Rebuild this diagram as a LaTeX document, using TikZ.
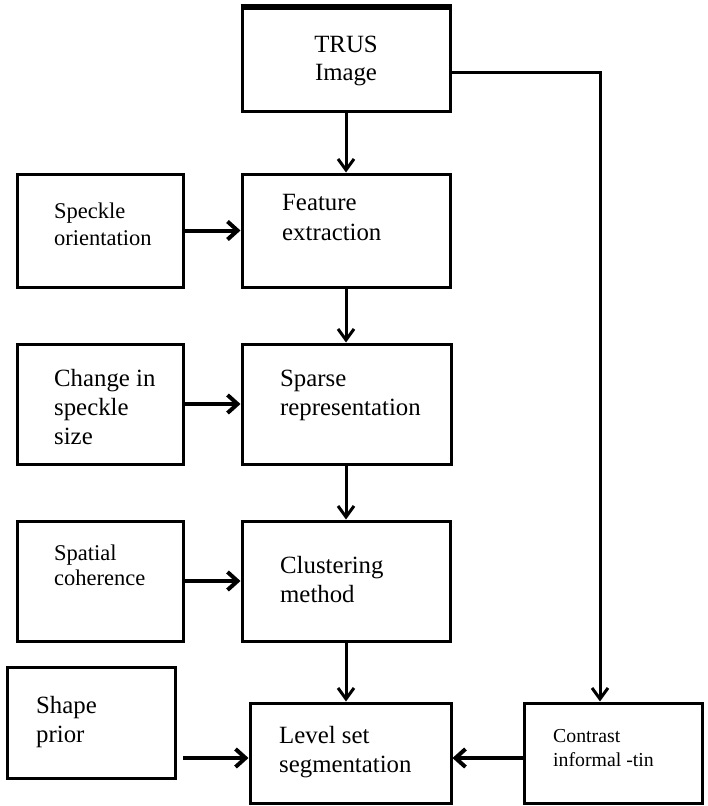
\documentclass[tikz,border=0pt]{standalone}
\usepackage{fontspec}
\setmainfont{Liberation Serif}
\usetikzlibrary{arrows.meta}
\begin{document}
\begin{tikzpicture}[x=1pt,y=-1pt,
  box/.style={draw, line width=3pt, rectangle, inner sep=0pt},
  big/.style={anchor=base west, inner sep=0pt, font=\fontsize{24.8}{29}\selectfont},
  mid/.style={anchor=base west, inner sep=0pt, font=\fontsize{22.5}{26}\selectfont},
  sml/.style={anchor=base west, inner sep=0pt, font=\fontsize{19.8}{24}\selectfont},
  arr/.style={line width=3pt, -{Straight Barb[length=11pt,width=16pt]}},
  harr/.style={line width=4pt, -{Straight Barb[length=10pt,width=18pt]}}]
\useasboundingbox (0,0) rectangle (707,806);

% boxes (centre, width, height)
\node[box, minimum width=208pt, minimum height=103pt] (trus) at (346,59.5) {};
\node[box, minimum width=208pt, minimum height=113pt] (feat) at (346,230.5) {};
\node[box, minimum width=166pt, minimum height=113pt] (speck) at (100,230.5) {};
\node[box, minimum width=209pt, minimum height=120pt] (sparse) at (346.5,404) {};
\node[box, minimum width=166pt, minimum height=120pt] (change) at (100,404) {};
\node[box, minimum width=208pt, minimum height=120pt] (clust) at (346,581) {};
\node[box, minimum width=166pt, minimum height=120pt] (spatial) at (100,581) {};
\node[box, minimum width=201pt, minimum height=100pt] (level) at (350.5,753) {};
\node[box, minimum width=168pt, minimum height=111pt] (shape) at (91,722.5) {};
\node[box, minimum width=178pt, minimum height=100pt] (contrast) at (613,753) {};
\draw[line width=5pt] (trus.north west) -- (trus.north east);

% texts
\node[big, anchor=base] (t1) at (346,52) {TRUS};
\node[big, anchor=base] (t2) at (346,80) {Image};
\node[big] (f1) at (282,210) {Feature};
\node[big] (f2) at (282,240) {extraction};
\node[mid] (s1) at (54,218) {Speckle};
\node[mid] (s2) at (54,245) {orientation};
\node[big] (c1) at (54,386) {Change in};
\node[big] (c2) at (54,415) {speckle};
\node[big] (c3) at (54,444) {size};
\node[big] (p1) at (280,386) {Sparse};
\node[big] (p2) at (280,415) {representation};
\node[mid] (a1) at (54,560) {Spatial};
\node[mid] (a2) at (54,585) {coherence};
\node[big] (k1) at (280,573) {Clustering};
\node[big] (k2) at (280,602) {method};
\node[big] (h1) at (36,713) {Shape};
\node[big] (h2) at (36,742) {prior};
\node[big] (l1) at (279,743) {Level set};
\node[big] (l2) at (279,772) {segmentation};
\node[sml] (n1) at (553,742) {Contrast};
\node[sml] (n2) at (553,766) {informal -tin};

% connectors
\draw[arr] (trus.south) -- (feat.north);
\draw[arr] (feat.south) -- (sparse.north -| feat.south);
\draw[arr] (sparse.south -| feat.south) -- (clust.north);
\draw[arr] (clust.south) -- (clust.south |- level.north);
\draw[harr] (speck.east) -- (feat.west);
\draw[harr] (change.east) -- (sparse.west);
\draw[harr] (spatial.east) -- (clust.west);
\coordinate (sp) at (183,758);
\draw[harr] (sp) -- (sp -| level.west);
\draw[harr] (contrast.west |- sp) -- (level.east |- sp);
\coordinate (corner) at (600,72);
\draw[arr] (trus.east |- corner) -- (corner) -- (corner |- contrast.north);
\end{tikzpicture}
\end{document}
